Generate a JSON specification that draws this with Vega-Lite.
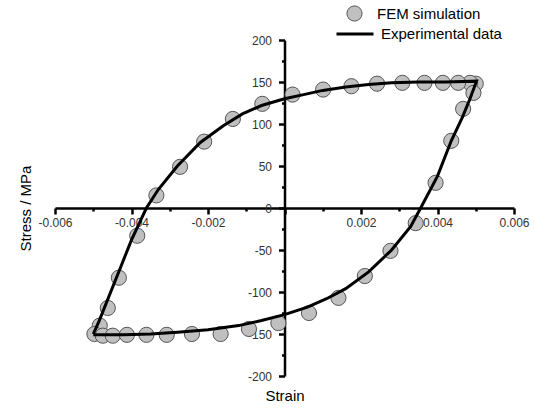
{
  "$schema": "https://vega.github.io/schema/vega-lite/v6.json",
  "width": 459,
  "height": 336,
  "autosize": {"type": "none"},
  "padding": {"left": 55, "top": 40, "right": 21, "bottom": 34},
  "background": "white",
  "config": {
    "view": {"stroke": null},
    "font": "Liberation Sans",
    "axis": {
      "grid": false,
      "domainColor": "black",
      "domainWidth": 2.5,
      "tickColor": "black",
      "tickWidth": 2.5,
      "labelFont": "Liberation Sans",
      "labelFontSize": 12,
      "labelColor": "#333333",
      "labelOverlap": false,
      "labelFlush": false,
      "titleFont": "Liberation Sans",
      "titleFontSize": 15,
      "titleFontWeight": "normal",
      "titleColor": "black"
    },
    "legend": {
      "labelFont": "Liberation Sans",
      "labelFontSize": 15,
      "labelColor": "black"
    }
  },
  "datasets": {
    "fem": [
      {"strain": 0.00500, "stress": 148},
      {"strain": 0.00485, "stress": 149},
      {"strain": 0.00454, "stress": 149},
      {"strain": 0.00414, "stress": 149},
      {"strain": 0.00366, "stress": 149},
      {"strain": 0.00308, "stress": 149},
      {"strain": 0.00242, "stress": 148},
      {"strain": 0.00175, "stress": 145},
      {"strain": 0.00101, "stress": 141},
      {"strain": 0.00021, "stress": 135},
      {"strain": -0.00058, "stress": 124},
      {"strain": -0.00135, "stress": 106},
      {"strain": -0.00210, "stress": 79},
      {"strain": -0.00273, "stress": 49},
      {"strain": -0.00335, "stress": 15},
      {"strain": -0.00385, "stress": -33},
      {"strain": -0.00433, "stress": -83},
      {"strain": -0.00462, "stress": -119},
      {"strain": -0.00483, "stress": -140},
      {"strain": -0.00497, "stress": -150},
      {"strain": -0.00475, "stress": -152},
      {"strain": -0.00449, "stress": -152},
      {"strain": -0.00412, "stress": -151},
      {"strain": -0.00361, "stress": -151},
      {"strain": -0.00308, "stress": -151},
      {"strain": -0.00242, "stress": -150},
      {"strain": -0.00167, "stress": -150},
      {"strain": -0.00093, "stress": -144},
      {"strain": -0.00016, "stress": -137},
      {"strain": 0.00064, "stress": -125},
      {"strain": 0.00141, "stress": -107},
      {"strain": 0.00210, "stress": -81},
      {"strain": 0.00277, "stress": -51},
      {"strain": 0.00343, "stress": -18},
      {"strain": 0.00395, "stress": 30},
      {"strain": 0.00436, "stress": 80},
      {"strain": 0.00467, "stress": 118},
      {"strain": 0.00494, "stress": 137}
    ],
    "exp": [
      {"i": 1, "strain": -0.00500, "stress": -150},
      {"i": 2, "strain": -0.00485, "stress": -135},
      {"i": 3, "strain": -0.00465, "stress": -112},
      {"i": 4, "strain": -0.00435, "stress": -78},
      {"i": 5, "strain": -0.00400, "stress": -38},
      {"i": 6, "strain": -0.00361, "stress": 0},
      {"i": 7, "strain": -0.00330, "stress": 22},
      {"i": 8, "strain": -0.00280, "stress": 50},
      {"i": 9, "strain": -0.00220, "stress": 78},
      {"i": 10, "strain": -0.00160, "stress": 98},
      {"i": 11, "strain": -0.00110, "stress": 112},
      {"i": 12, "strain": -0.00060, "stress": 122},
      {"i": 13, "strain": 0.00000, "stress": 130},
      {"i": 14, "strain": 0.00050, "stress": 135},
      {"i": 15, "strain": 0.00100, "stress": 140},
      {"i": 16, "strain": 0.00160, "stress": 144},
      {"i": 17, "strain": 0.00220, "stress": 147},
      {"i": 18, "strain": 0.00280, "stress": 149},
      {"i": 19, "strain": 0.00350, "stress": 150},
      {"i": 20, "strain": 0.00420, "stress": 150},
      {"i": 21, "strain": 0.00502, "stress": 151},
      {"i": 22, "strain": 0.00485, "stress": 130},
      {"i": 23, "strain": 0.00465, "stress": 108},
      {"i": 24, "strain": 0.00436, "stress": 80},
      {"i": 25, "strain": 0.00400, "stress": 38},
      {"i": 26, "strain": 0.00356, "stress": 0},
      {"i": 27, "strain": 0.00330, "stress": -22},
      {"i": 28, "strain": 0.00280, "stress": -50},
      {"i": 29, "strain": 0.00220, "stress": -76},
      {"i": 30, "strain": 0.00160, "stress": -96},
      {"i": 31, "strain": 0.00110, "stress": -108},
      {"i": 32, "strain": 0.00060, "stress": -118},
      {"i": 33, "strain": 0.00000, "stress": -127},
      {"i": 34, "strain": -0.00060, "stress": -134},
      {"i": 35, "strain": -0.00120, "stress": -140},
      {"i": 36, "strain": -0.00200, "stress": -145},
      {"i": 37, "strain": -0.00280, "stress": -148},
      {"i": 38, "strain": -0.00350, "stress": -150},
      {"i": 39, "strain": -0.00420, "stress": -151},
      {"i": 40, "strain": -0.00500, "stress": -151}
    ]
  },
  "encoding": {
    "x": {
      "field": "strain",
      "type": "quantitative",
      "scale": {"domain": [-0.006, 0.006], "nice": false, "zero": false},
      "axis": {
        "title": "Strain",
        "offset": -168,
        "values": [-0.006, -0.005, -0.004, -0.003, -0.002, -0.001, 0, 0.001, 0.002, 0.003, 0.004, 0.005, 0.006],
        "labelExpr": "datum.value == 0 || abs(round(datum.value*1000)) % 2 == 1 ? '' : (datum.value < 0 ? '-' : '') + format(abs(datum.value), '.3f')",
        "tickSize": {"condition": {"test": "abs(round(datum.value*1000)) % 2 == 1", "value": 3}, "value": 6},
        "labelPadding": 3,
        "titleY": 187,
        "titleBaseline": "middle"
      }
    },
    "y": {
      "field": "stress",
      "type": "quantitative",
      "scale": {"domain": [-200, 200], "nice": false, "zero": false},
      "axis": {
        "title": "Stress / MPa",
        "offset": -229.5,
        "values": [-200, -175, -150, -125, -100, -75, -50, -25, 0, 25, 50, 75, 100, 125, 150, 175, 200],
        "labelExpr": "datum.value % 50 != 0 ? '' : (datum.value < 0 ? '-' : '') + abs(datum.value)",
        "tickSize": {"condition": {"test": "datum.value % 50 != 0", "value": 3}, "value": 6},
        "labelPadding": 7,
        "titleX": -259.5,
        "titleY": 168,
        "titleAngle": -90,
        "titleAlign": "center",
        "titleBaseline": "middle"
      }
    }
  },
  "layer": [
    {
      "data": {"name": "fem"},
      "mark": {"type": "point", "filled": true, "shape": "circle", "size": 230, "stroke": "#555555", "strokeWidth": 1, "opacity": 1},
      "encoding": {
        "fill": {
          "datum": "FEM simulation",
          "type": "nominal",
          "scale": {"domain": ["FEM simulation"], "range": ["#c0c0c0"]},
          "legend": {
            "title": null,
            "orient": "none",
            "legendX": 291,
            "legendY": -35,
            "symbolType": "circle",
            "symbolSize": 230,
            "symbolStrokeColor": "#555555",
            "symbolStrokeWidth": 1,
            "symbolFillColor": "#c0c0c0",
            "symbolOpacity": 1,
            "labelOffset": 14
          }
        }
      }
    },
    {
      "data": {"name": "exp"},
      "mark": {"type": "line", "strokeWidth": 3},
      "encoding": {
        "order": {"field": "i", "type": "quantitative"},
        "stroke": {
          "datum": "Experimental data",
          "type": "nominal",
          "scale": {"domain": ["Experimental data"], "range": ["black"]},
          "legend": {
            "title": null,
            "orient": "none",
            "legendX": 280,
            "legendY": -26,
            "symbolType": "stroke",
            "symbolSize": 1369,
            "symbolStrokeWidth": 3,
            "labelOffset": 6
          }
        }
      }
    }
  ]
}
